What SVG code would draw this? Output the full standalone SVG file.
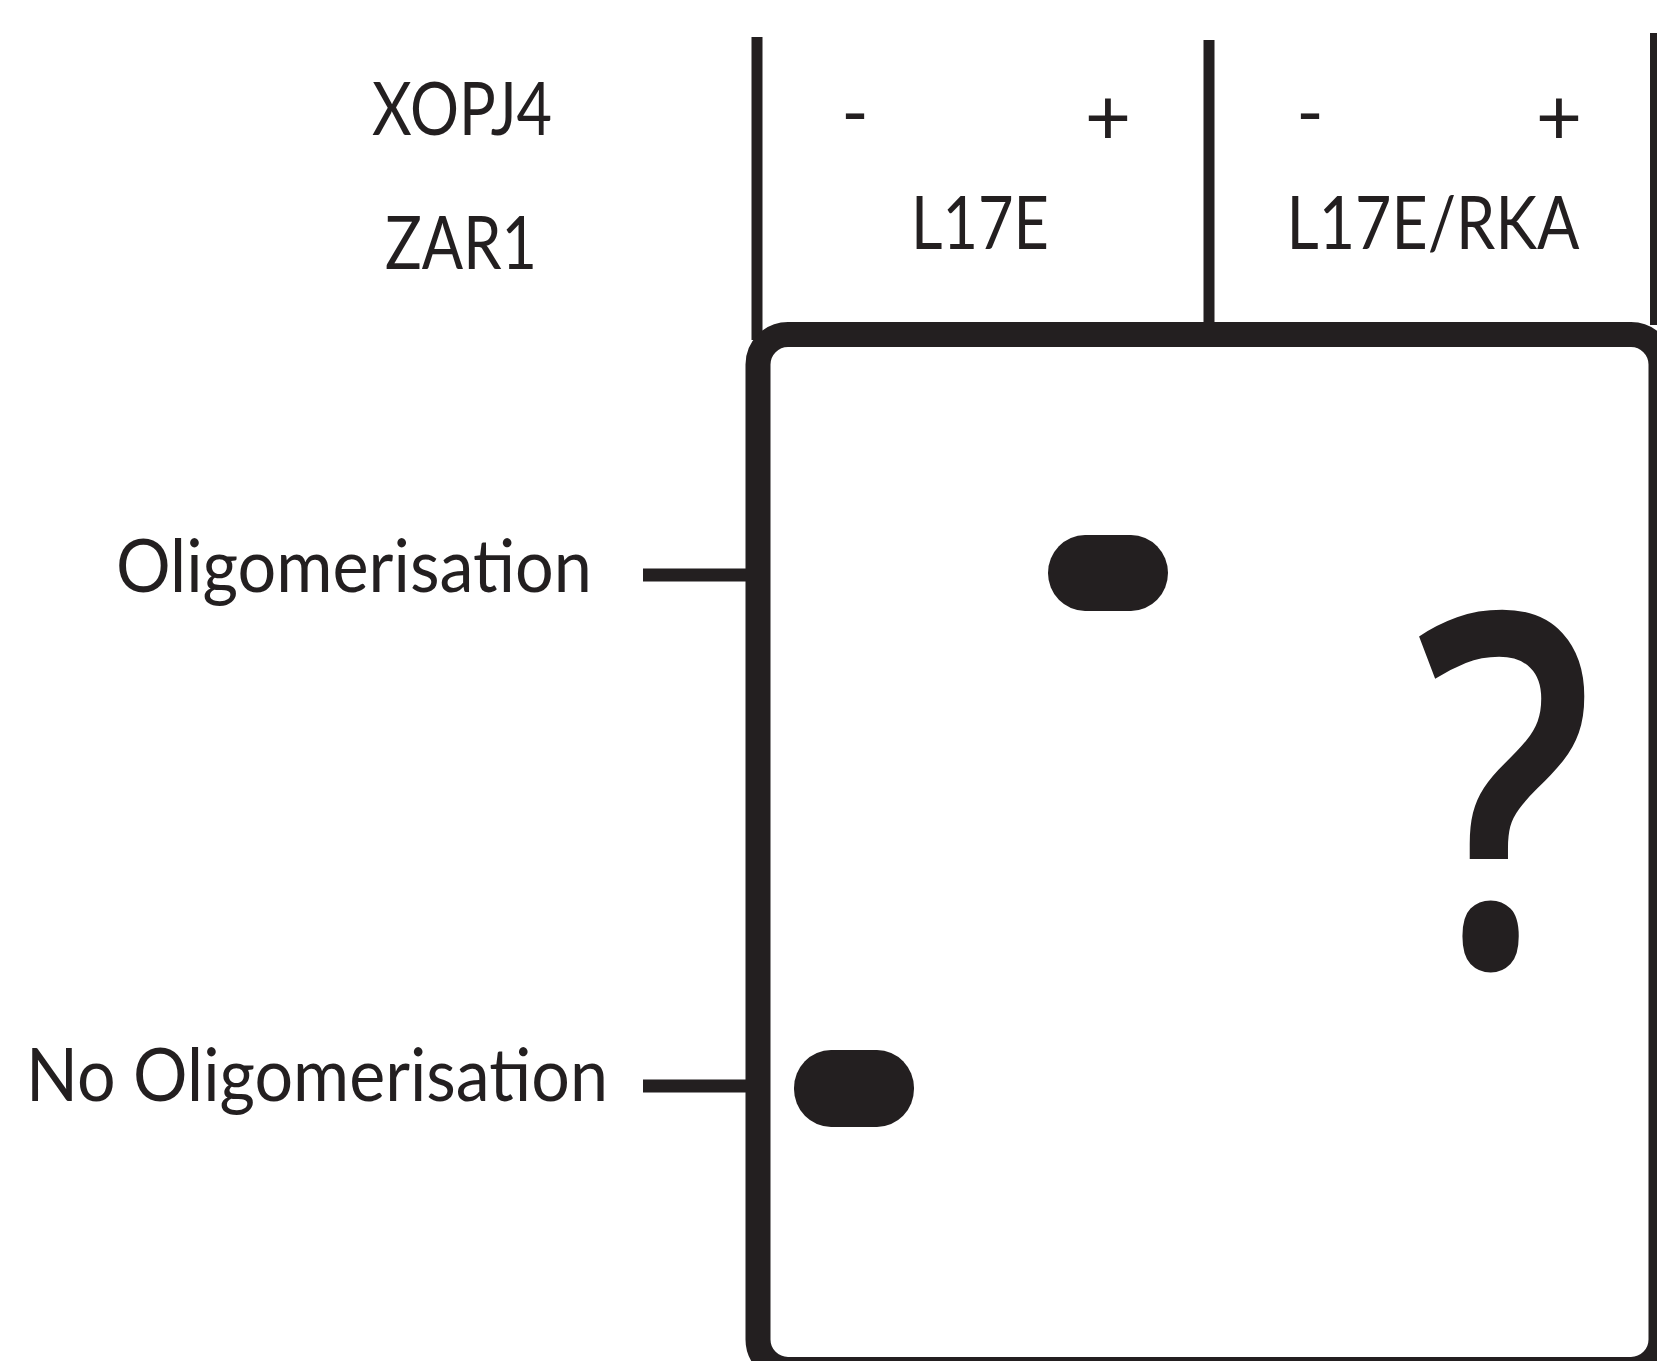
<svg xmlns="http://www.w3.org/2000/svg" width="1657" height="1361" viewBox="0 0 1657 1361">
<style>
.t{font-family:Lato,"Open Sans","Liberation Sans",sans-serif;fill:#231f20;font-size:74px}
.pm{font-size:80px}
.ln{stroke:#231f20;fill:none}
.blob{fill:#231f20}
</style>
<rect width="1657" height="1361" fill="#fff"/>
<g id="header">
<text class="t" x="462" y="135" text-anchor="middle" textLength="180" lengthAdjust="spacingAndGlyphs">XOPJ4</text>
<text class="t" x="461" y="269" text-anchor="middle" textLength="152" lengthAdjust="spacingAndGlyphs">ZAR1</text>
<text class="t" x="855" y="138" text-anchor="middle">-</text>
<text class="t pm" x="1108" y="145" text-anchor="middle">+</text>
<text class="t" x="1310" y="138" text-anchor="middle">-</text>
<text class="t pm" x="1559" y="145" text-anchor="middle">+</text>
<text class="t" x="980" y="249" text-anchor="middle" textLength="138" lengthAdjust="spacingAndGlyphs">L17E</text>
<text class="t" x="1433" y="249" text-anchor="middle" textLength="293" lengthAdjust="spacingAndGlyphs">L17E/RKA</text>
</g>
<g id="lanes">
<line class="ln" x1="757" y1="37" x2="757" y2="340" stroke-width="11"/>
<line class="ln" x1="1209" y1="40" x2="1209" y2="325" stroke-width="11"/>
<line class="ln" x1="1655" y1="33" x2="1655" y2="325" stroke-width="10"/>
</g>
<g id="gel">
<rect class="ln" x="758" y="334.5" width="903" height="1035" rx="30" stroke-width="25"/>
</g>
<g id="labels">
<text class="t" x="592" y="592" text-anchor="end" textLength="476" lengthAdjust="spacingAndGlyphs">Oligomerisation</text>
<text class="t" x="608" y="1101" text-anchor="end" textLength="582" lengthAdjust="spacingAndGlyphs">No Oligomerisation</text>
</g>
<g id="connectors">
<line class="ln" x1="643" y1="575" x2="746" y2="575" stroke-width="13"/>
<line class="ln" x1="643" y1="1086" x2="746" y2="1086" stroke-width="13"/>
</g>
<g id="band-oligo">
<rect class="blob" x="1048" y="535" width="120" height="76" rx="37" ry="38"/>
</g>
<g id="band-nooligo">
<rect class="blob" x="794" y="1050" width="120" height="77" rx="37" ry="38"/>
</g>
<g id="unknown">
<text transform="translate(1505,966) scale(0.8,1)" x="0" y="0" text-anchor="middle" style="font-family:'Open Sans',Lato,sans-serif;font-weight:600;font-size:492px;fill:#231f20">?</text>
</g>
</svg>
